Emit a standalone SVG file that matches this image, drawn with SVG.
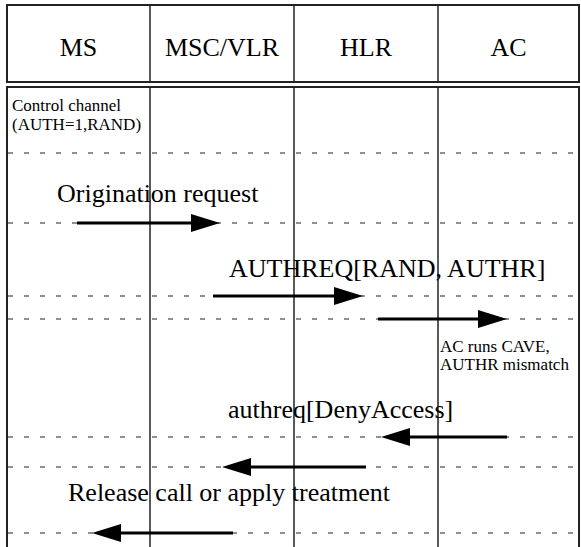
<svg xmlns="http://www.w3.org/2000/svg" width="581" height="547" viewBox="0 0 581 547">
<style>
.hdr{font-family:"Liberation Serif","Times New Roman",serif;font-size:26px;fill:#000;text-anchor:middle}
.big{font-family:"Liberation Serif","Times New Roman",serif;font-size:26px;fill:#000}
.small{font-family:"Liberation Serif","Times New Roman",serif;font-size:17px;fill:#000}
.frame{fill:none;stroke:#222;stroke-width:2}
.col{stroke:#222;stroke-width:1.5;fill:none}
.dash{stroke:#222;stroke-width:1.2;stroke-dasharray:5 11;fill:none}
.msg{stroke:#000;stroke-width:3;fill:none}
.head{fill:#000}
</style>
<rect width="581" height="547" fill="#fff"/>
<g id="header">
  <rect class="frame" x="7" y="5" width="572" height="77"/>
  <line class="col" x1="150" y1="5" x2="150" y2="82"/>
  <line class="col" x1="294" y1="5" x2="294" y2="82"/>
  <line class="col" x1="438" y1="5" x2="438" y2="82"/>
</g>
<g id="ms"><text class="hdr" x="78.5" y="56">MS</text></g>
<g id="msc"><text class="hdr" x="222" y="56">MSC/VLR</text></g>
<g id="hlr"><text class="hdr" x="366" y="56">HLR</text></g>
<g id="ac"><text class="hdr" x="508.5" y="56">AC</text></g>
<g id="lanes">
  <polyline class="frame" points="7,547 7,87 579,87 579,547"/>
  <line class="col" x1="150" y1="87" x2="150" y2="547"/>
  <line class="col" x1="294" y1="87" x2="294" y2="547"/>
  <line class="col" x1="438" y1="87" x2="438" y2="547"/>
</g>
<g id="separators">
  <line class="dash" x1="8" y1="153" x2="579" y2="153"/>
  <line class="dash" x1="8" y1="223" x2="579" y2="223"/>
  <line class="dash" x1="8" y1="296" x2="579" y2="296"/>
  <line class="dash" x1="8" y1="319" x2="579" y2="319"/>
  <line class="dash" x1="8" y1="437" x2="579" y2="437"/>
  <line class="dash" x1="8" y1="467" x2="579" y2="467"/>
  <line class="dash" x1="8" y1="533" x2="579" y2="533"/>
</g>
<g id="notes">
  <text class="small" x="12" y="111">Control channel</text>
  <text class="small" x="12" y="130">(AUTH=1,RAND)</text>
  <text class="small" x="440" y="352">AC runs CAVE,</text>
  <text class="small" x="440" y="370">AUTHR mismatch</text>
</g>
<g id="connectors">
  <g id="m1">
    <line class="msg" x1="77" y1="223" x2="195" y2="223"/>
    <polygon class="head" points="220,223 191,214 191,232"/>
    <text class="big" x="57" y="202">Origination request</text>
  </g>
  <g id="m2">
    <line class="msg" x1="213" y1="296" x2="338" y2="296"/>
    <polygon class="head" points="363,296 334,287 334,305"/>
    <text class="big" x="229" y="277">AUTHREQ[RAND, AUTHR]</text>
  </g>
  <g id="m3">
    <line class="msg" x1="378" y1="319" x2="482" y2="319"/>
    <polygon class="head" points="507,319 478,310 478,328"/>
  </g>
  <g id="m4">
    <line class="msg" x1="507" y1="437" x2="406" y2="437"/>
    <polygon class="head" points="381,437 410,428 410,446"/>
    <text class="big" x="228" y="418">authreq[DenyAccess]</text>
  </g>
  <g id="m5">
    <line class="msg" x1="366" y1="467" x2="247" y2="467"/>
    <polygon class="head" points="222,467 251,458 251,476"/>
  </g>
  <g id="m6">
    <line class="msg" x1="233" y1="533" x2="117" y2="533"/>
    <polygon class="head" points="92,533 121,524 121,542"/>
    <text class="big" x="68" y="501">Release call or apply treatment</text>
  </g>
</g>
</svg>
